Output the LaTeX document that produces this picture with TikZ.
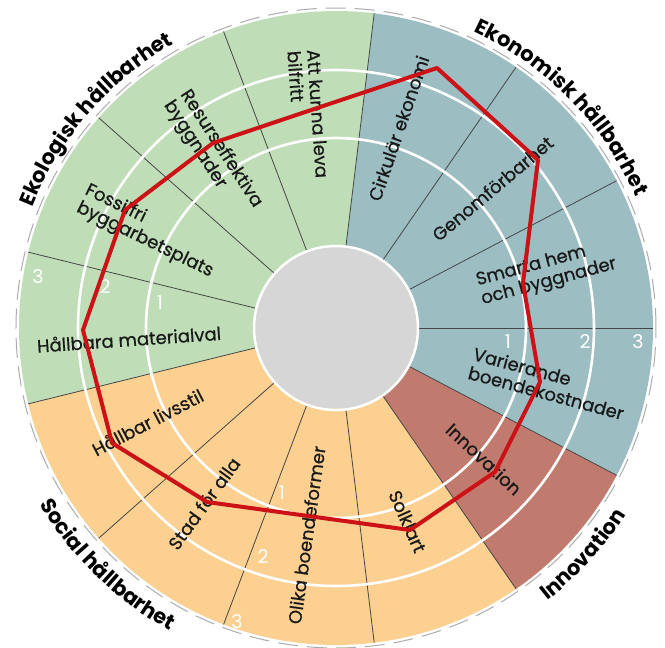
\documentclass[tikz,border=0pt]{standalone}
\usepackage{fontspec}
\setmainfont{Poppins}
\newfontfamily\lblfont{Poppins}[FakeBold=0.6]
\usetikzlibrary{decorations.text}
\definecolor{ecogreen}{RGB}{191,222,183}
\definecolor{ecoteal}{RGB}{156,189,194}
\definecolor{socorange}{RGB}{251,208,144}
\definecolor{innored}{RGB}{193,122,110}
\definecolor{hubgrey}{RGB}{214,214,214}
\definecolor{polyred}{RGB}{204,18,22}
\definecolor{divgrey}{RGB}{70,70,70}
\newcommand\outerlabelfont{\fontsize{21}{21}\selectfont\bfseries}
\begin{document}
\begin{tikzpicture}[x=1pt,y=1pt,
  lbl/.style={font=\lblfont\fontsize{18}{19.5}\selectfont, align=left, inner sep=0pt, text=black!90},
  ringnum/.style={font=\fontsize{19}{19}\selectfont, text=white, inner sep=0pt},
  divider/.style={draw=divgrey, line width=0.8pt},
  ringline/.style={draw=white, line width=2.6pt},
  polyline/.style={draw=polyred, line width=4pt, line join=round}]
\useasboundingbox (-336,-320) rectangle (329,328);
% sectors
\foreach \i/\c in {0/ecoteal,1/ecoteal,2/ecoteal,3/ecogreen,4/ecogreen,5/ecogreen,6/ecogreen,7/socorange,8/socorange,9/socorange,10/socorange,11/innored,12/ecoteal}{
  \pgfmathsetmacro\a{\i*360/13}
  \pgfmathsetmacro\b{(\i+1)*360/13}
  \fill[\c] (0,0) -- (\a:317) arc[start angle=\a, end angle=\b, radius=317] -- cycle;
}
% dividers
\foreach \i in {0,...,12}{
  \pgfmathsetmacro\a{\i*360/13}
  \draw[divider] (\a:82) -- (\a:317);
}
% outer dashed outline
\draw[gray!65, line width=1pt, dash pattern=on 20pt off 9pt] (0,0) circle[radius=320];
% rings
\draw[ringline] (0,0) circle[radius=190];
\draw[ringline] (0,0) circle[radius=258];
% hub
\draw[white, line width=2.5pt, fill=hubgrey] (0,0) circle[radius=82];
% ring numbers
\node[ringnum] (r1a) at (172,-14) {1};
\node[ringnum] (r2a) at (249,-14) {2};
\node[ringnum] (r3a) at (302,-14) {3};
\node[ringnum] (r1b) at (-176,25) {1};
\node[ringnum] (r2b) at (-231,41) {2};
\node[ringnum] (r3b) at (-298,51) {3};
\node[ringnum] (r1c) at (-54,-165) {1};
\node[ringnum] (r2c) at (-73,-229) {2};
\node[ringnum] (r3c) at (-99,-294) {3};
% inner labels
\node[lbl, rotate=71] (cirk) at (62.5,199.7) {Cirkulär ekonomi};
\node[lbl, rotate=40] (genom) at (156.5,139.5) {Genomförbarhet};
\node[lbl, rotate=15] (smart) at (210.5,55.3) {Smarta hem\\och byggnader};
\node[lbl, rotate=-15] (varier) at (212.7,-55.4) {Varierande\\boendekostnader};
\node[lbl, rotate=-43] (innov) at (148,-131) {Innovation};
\node[lbl, rotate=-66] (solk) at (71.5,-193.5) {Solklart};
\node[lbl, rotate=82] (olika) at (-29.5,-207) {Olika boendeformer};
\node[lbl, rotate=54] (stad) at (-132,-175.5) {Stad för alla};
\node[lbl, rotate=27.5] (livs) at (-188.5,-94) {Hållbar livsstil};
\node[lbl, rotate=4] (mat) at (-207,-11) {Hållbara materialval};
\node[lbl, rotate=-26] (foss) at (-186.9,96.7) {Fossilfri\\byggarbetsplats};
\node[lbl, rotate=-57] (res) at (-123.3,173.8) {Resurseffektiva\\byggnader};
\node[lbl, rotate=-86] (att) at (-27.8,213.6) {Att kunna leva\\bilfritt};
% outer labels
\path[decorate, decoration={text along path, text align=center, text={|\outerlabelfont|Ekologisk hållbarhet}}]
  (175:327) arc[start angle=175, end angle=103, radius=327];
\path[decorate, decoration={text along path, text align=center, text={|\outerlabelfont|Ekonomisk hållbarhet}}]
  (80.4:327) arc[start angle=80.4, end angle=8.4, radius=327];
\path[decorate, decoration={text along path, text align=center, text={|\outerlabelfont|Social hållbarhet}}]
  (190:345) arc[start angle=190, end angle=262, radius=345];
\path[decorate, decoration={text along path, text align=center, text={|\outerlabelfont|Innovation}}]
  (290:345) arc[start angle=290, end angle=345, radius=345];
% red profile
\coordinate (v1) at (101,260);
\coordinate (v2) at (202,168);
\coordinate (v3) at (187,45);
\coordinate (v4) at (204,-54);
\coordinate (v5) at (159,-144);
\coordinate (v6) at (74,-202);
\coordinate (v7) at (-22.8,-188.7);
\coordinate (v8) at (-129,-174);
\coordinate (v9) at (-224,-115);
\coordinate (v10) at (-253,-2);
\coordinate (v11) at (-211,118);
\coordinate (v12) at (-123,185);
\coordinate (v13) at (-26.3,217.5);
\draw[polyline] (v1) -- (v2) -- (v3) -- (v4) -- (v5) -- (v6) -- (v7) -- (v8) -- (v9) -- (v10) -- (v11) -- (v12) -- (v13) -- cycle;
\end{tikzpicture}
\end{document}
